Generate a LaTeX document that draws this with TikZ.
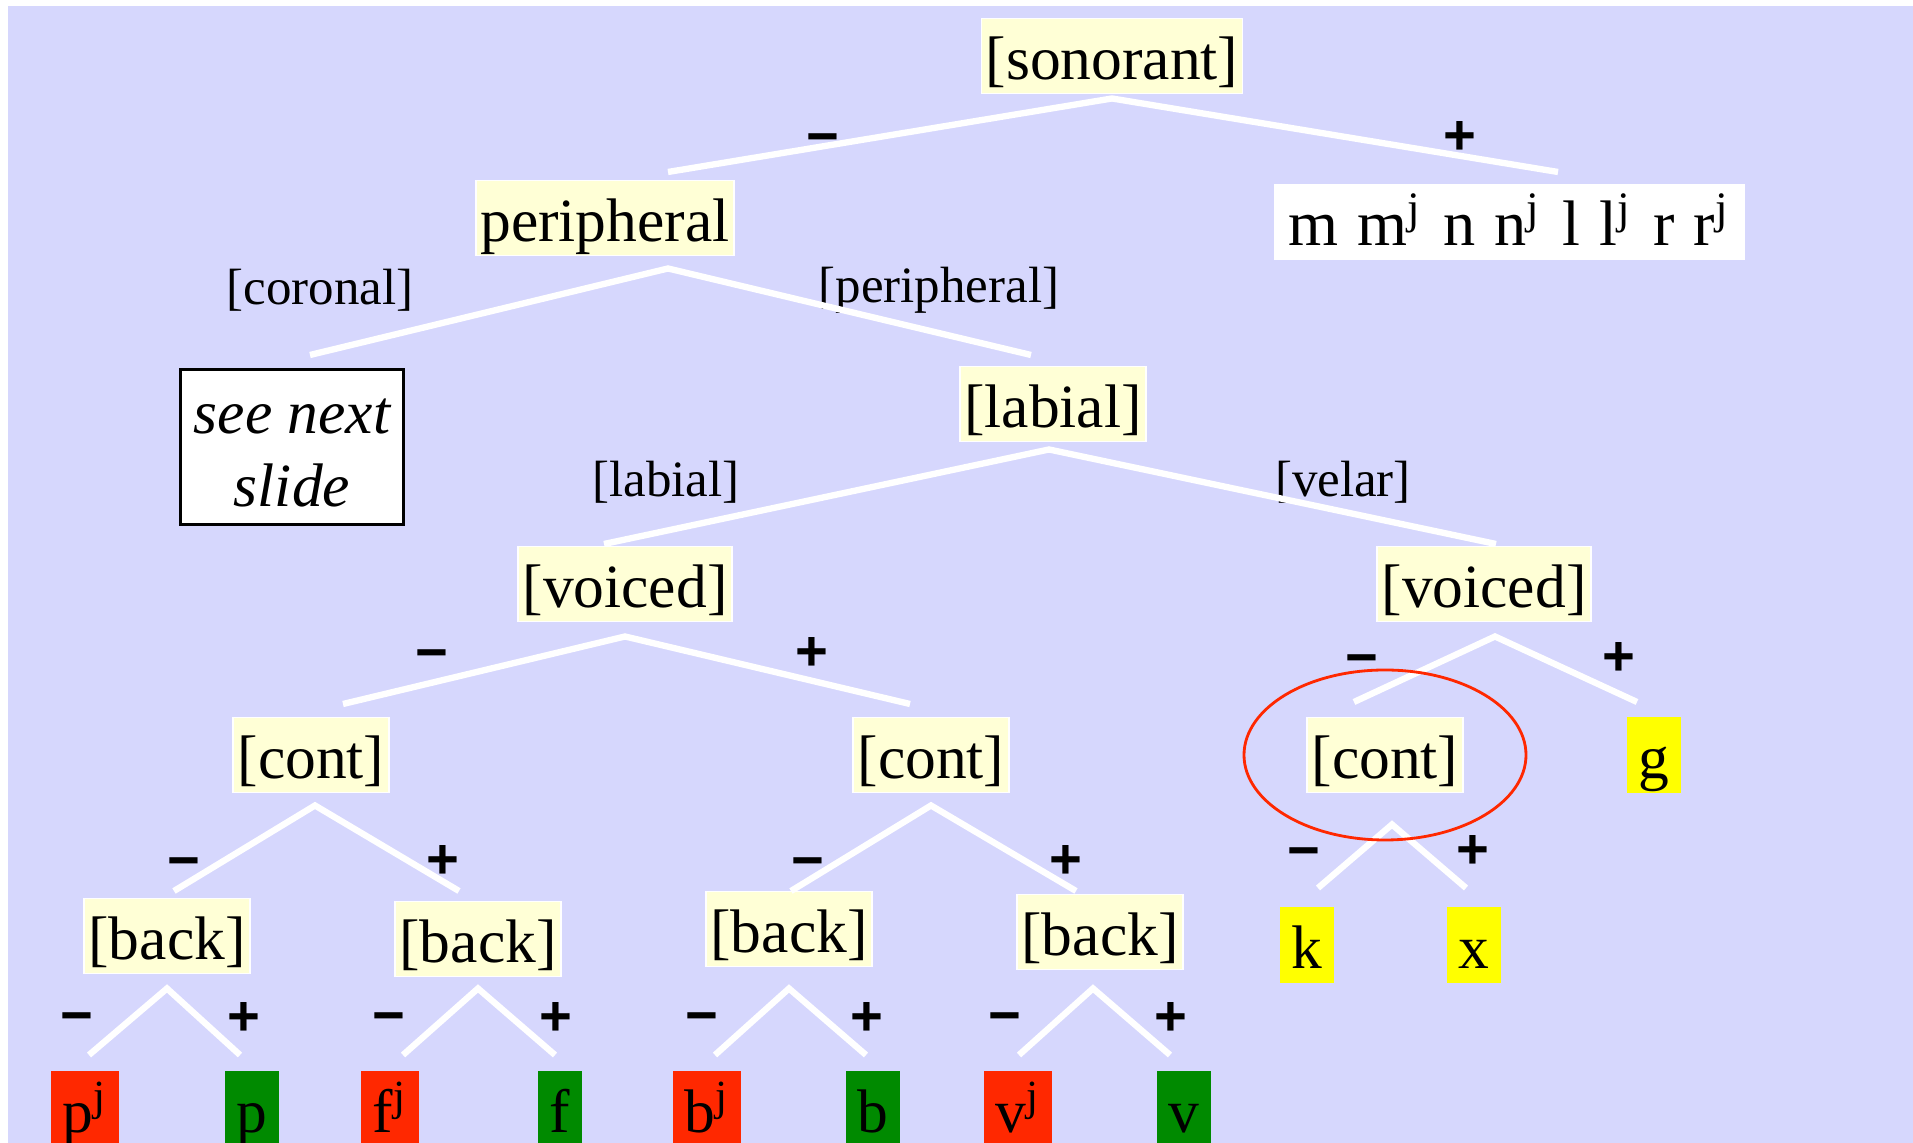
\documentclass[tikz,border=0pt]{standalone}
\usepackage{fontspec}
\setmainfont{Liberation Serif}
\newfontfamily\signfont{Liberation Sans}
\usetikzlibrary{positioning,calc}
\definecolor{slideBlue}{RGB}{214,215,253}
\definecolor{featCream}{RGB}{255,255,214}
\definecolor{segRed}{RGB}{255,40,0}
\definecolor{segGreen}{RGB}{0,138,0}
\definecolor{segYellow}{RGB}{255,255,0}
\newcommand{\palj}{\textsuperscript{j}\hspace{0.02cm}}
\newcommand{\listfont}{\fontsize{18.3}{20}\selectfont\spaceskip=0.3em plus 0.1em\relax}

\begin{document}
\begin{tikzpicture}[
    feat/.style={rectangle, fill=featCream, draw=white, line width=0.5pt,
                 font=\fontsize{17.5}{20}\selectfont, inner xsep=1.2pt, inner ysep=0pt,
                 text height=17.5pt, text depth=3.9pt},
    seg/.style={feat, draw=none, inner xsep=3.3pt},
    place/.style={font=\fontsize{14.5}{17}\selectfont, inner sep=0pt},
    sign/.style={font=\signfont\bfseries\fontsize{16}{18}\selectfont, inner sep=0pt},
    branch/.style={draw=white, line width=1.8pt}
  ]
  \useasboundingbox (0,0) rectangle (19.13,11.43);
  \fill[slideBlue] (0.08,0) rectangle (19.13,11.37);

  % feature boxes
  \node[feat] (son) at (11.12,10.87) {[sonorant]};
  \node[feat] (per) at ( 6.05, 9.25) {peripheral};
  \node[seg, fill=white, minimum width=4.71cm, font=\listfont]
       (sonlist) at (15.09,9.21) {m m\palj{} n n\palj{} l l\palj{} r r\textsuperscript{j}};
  \node[rectangle, draw=black, fill=white, line width=0.8pt, minimum width=2.23cm,
        minimum height=1.55cm, align=center, text depth=0pt,
        font=\itshape\fontsize{17.5}{20.5}\selectfont]
       (seenext) at (2.92,6.96) {\rule{0pt}{13.1pt}see next\\slide};
  \node[feat] (lab) at (10.53,7.39) {[labial]};
  \node[feat] (vl)  at ( 6.25,5.59) {[voiced]};
  \node[feat] (vr)  at (14.84,5.59) {[voiced]};
  \node[feat] (c1)  at ( 3.11,3.88) {[cont]};
  \node[feat] (c2)  at ( 9.31,3.88) {[cont]};
  \node[feat] (c3)  at (13.85,3.88) {[cont]};
  \node[seg, fill=segYellow] (g) at (16.54,3.88) {g};
  \node[seg, fill=segYellow] (k) at (13.07,1.98) {k};
  \node[seg, fill=segYellow] (x) at (14.74,1.98) {x};
  \node[feat] (b1) at ( 1.67,2.07) {[back]};
  \node[feat] (b2) at ( 4.78,2.04) {[back]};
  \node[feat] (b3) at ( 7.89,2.14) {[back]};
  \node[feat] (b4) at (11.00,2.11) {[back]};

  % segments at the bottom
  \node[seg, fill=segRed]   (pj) at ( 0.85,0.34) {p\textsuperscript{j}};
  \node[seg, fill=segGreen] (p)  at ( 2.52,0.34) {p};
  \node[seg, fill=segRed]   (fj) at ( 3.90,0.34) {f\textsuperscript{j}};
  \node[seg, fill=segGreen] (f)  at ( 5.60,0.34) {f};
  \node[seg, fill=segRed]   (bj) at ( 7.07,0.34) {b\textsuperscript{j}};
  \node[seg, fill=segGreen] (b)  at ( 8.73,0.34) {b};
  \node[seg, fill=segRed]   (vj) at (10.18,0.34) {v\textsuperscript{j}};
  \node[seg, fill=segGreen] (v)  at (11.84,0.34) {v};

  % place labels
  \node[place] (lcor) at ( 3.20,8.53) {[coronal]};
  \node[place] (lper) at ( 9.39,8.53) {[peripheral]};
  \node[place] (llab) at ( 6.66,6.61) {[labial]};
  \node[place] (lvel) at (13.43,6.61) {[velar]};

  % branch tips
  \coordinate (sonL) at ( 6.68,9.71);  \coordinate (sonR) at (15.58,9.71);
  \coordinate (perL) at ( 3.10,7.88);  \coordinate (perR) at (10.31,7.88);
  \coordinate (labL) at ( 6.04,5.99);  \coordinate (labR) at (14.96,5.99);
  \coordinate (vlL)  at ( 3.43,4.39);  \coordinate (vlR)  at ( 9.10,4.39);
  \coordinate (vrL)  at (13.54,4.41);  \coordinate (vrR)  at (16.37,4.41);
  \coordinate (c1L)  at ( 1.74,2.52);  \coordinate (c1R)  at ( 4.59,2.52);
  \coordinate (c2L)  at ( 7.91,2.52);  \coordinate (c2R)  at (10.76,2.52);
  \coordinate (c3L)  at (13.18,2.55);  \coordinate (c3R)  at (14.66,2.55);
  \coordinate (b1L)  at ( 0.89,0.88);  \coordinate (b1R)  at ( 2.40,0.88);
  \coordinate (b2L)  at ( 4.03,0.88);  \coordinate (b2R)  at ( 5.55,0.88);
  \coordinate (b3L)  at ( 7.15,0.88);  \coordinate (b3R)  at ( 8.66,0.88);
  \coordinate (b4L)  at (10.19,0.88);  \coordinate (b4R)  at (11.70,0.88);

  \draw[branch] (sonL) -- ([yshift=-0.04cm]son.south) -- (sonR);
  \draw[branch] (perL) -- ([xshift=0.63cm, yshift=-0.12cm]per.south) -- (perR);
  \draw[branch] (labL) -- ([xshift=-0.04cm, yshift=-0.07cm]lab.south) -- (labR);
  \draw[branch] (vlL) -- ([yshift=-0.14cm]vl.south) -- (vlR);
  \draw[branch] (vrL) -- ([xshift=0.11cm, yshift=-0.14cm]vr.south) -- (vrR);
  \draw[branch] (c1L) -- ([xshift=0.04cm, yshift=-0.12cm]c1.south) -- (c1R);
  \draw[branch] (c2L) -- ([yshift=-0.12cm]c2.south) -- (c2R);
  \draw[branch] (c3L) -- ([xshift=0.07cm, yshift=-0.31cm]c3.south) -- (c3R);
  \draw[branch] (b1L) -- ([yshift=-0.14cm]b1.south) -- (b1R);
  \draw[branch] (b2L) -- ([yshift=-0.11cm]b2.south) -- (b2R);
  \draw[branch] (b3L) -- ([yshift=-0.21cm]b3.south) -- (b3R);
  \draw[branch] (b4L) -- ([xshift=-0.07cm, yshift=-0.18cm]b4.south) -- (b4R);

  % + and - values
  \node[sign] (sonm) at ( 8.23,9.98) {−};  \node[sign] (sonp) at (14.60,10.05) {+};
  \node[sign] (vlm)  at ( 4.32,4.82) {−};  \node[sign] (vlp)  at ( 8.12,4.89) {+};
  \node[sign] (vrm)  at (13.62,4.77) {−};  \node[sign] (vrp)  at (16.19,4.84) {+};
  \node[sign] (c1m)  at ( 1.84,2.74) {−};  \node[sign] (c1p)  at ( 4.43,2.81) {+};
  \node[sign] (c2m)  at ( 8.08,2.74) {−};  \node[sign] (c2p)  at (10.66,2.81) {+};
  \node[sign] (c3m)  at (13.04,2.84) {−};  \node[sign] (c3p)  at (14.73,2.91) {+};
  \node[sign] (b1m)  at ( 0.77,1.19) {−};  \node[sign] (b1p)  at ( 2.44,1.24) {+};
  \node[sign] (b2m)  at ( 3.89,1.19) {−};  \node[sign] (b2p)  at ( 5.56,1.24) {+};
  \node[sign] (b3m)  at ( 7.02,1.19) {−};  \node[sign] (b3p)  at ( 8.67,1.24) {+};
  \node[sign] (b4m)  at (10.05,1.19) {−};  \node[sign] (b4p)  at (11.71,1.24) {+};

  \draw[segRed, line width=0.8pt] (c3) ellipse [x radius=1.41cm, y radius=0.85cm];
\end{tikzpicture}
\end{document}
